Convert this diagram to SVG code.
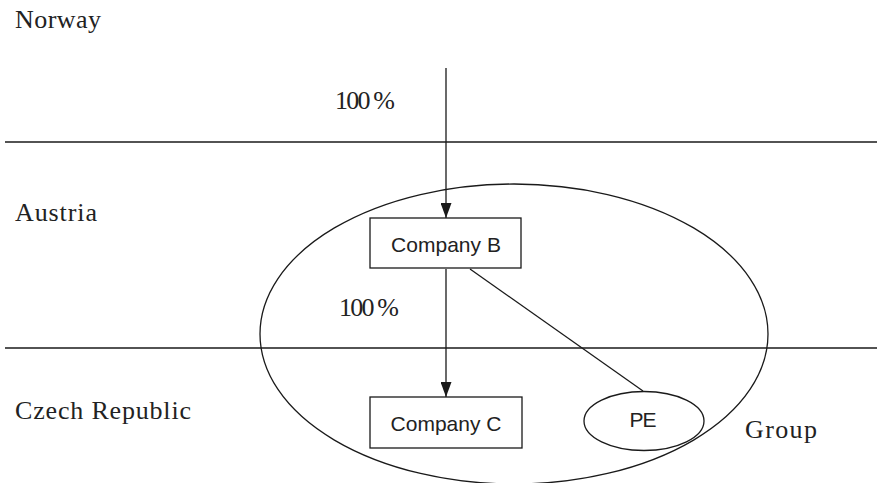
<svg xmlns="http://www.w3.org/2000/svg" width="877" height="483" viewBox="0 0 877 483">
  <style>
    .ln { stroke: #1a1a1a; stroke-width: 1.3; fill: none; }
    .box { stroke: #1a1a1a; stroke-width: 1.3; fill: #fff; }
    .serif { font-family: "Liberation Serif", "Times New Roman", serif; font-size: 26px; fill: #222; }
    .sans { font-family: "Liberation Sans", Arial, sans-serif; font-size: 21px; fill: #222; text-anchor: middle; }
  </style>
  <defs>
    <marker id="arrow" markerWidth="15" markerHeight="11" refX="15" refY="5.5" orient="auto" markerUnits="userSpaceOnUse" viewBox="0 0 15 11">
      <path d="M0,0 L15,5.5 L0,11 Z" fill="#1a1a1a"/>
    </marker>
  </defs>
  <rect width="877" height="483" fill="#fff"/>

  <!-- country boundaries -->
  <g id="borders">
    <line class="ln" x1="5" y1="142" x2="877" y2="142"/>
    <line class="ln" x1="5" y1="348" x2="877" y2="348"/>
  </g>

  <!-- country labels -->
  <g id="countries">
    <text class="serif" x="15" y="28" textLength="86">Norway</text>
    <text class="serif" x="15" y="221" textLength="82">Austria</text>
    <text class="serif" x="15" y="419" textLength="176">Czech Republic</text>
  </g>

  <!-- group boundary -->
  <g id="group">
    <ellipse class="ln" cx="514" cy="334" rx="254" ry="150"/>
    <text class="serif" x="745" y="438" textLength="72">Group</text>
  </g>

  <!-- connectors -->
  <g id="connectors">
    <line class="ln" x1="446" y1="68" x2="446" y2="218" marker-end="url(#arrow)"/>
    <line class="ln" x1="446" y1="269" x2="446" y2="397" marker-end="url(#arrow)"/>
    <line class="ln" x1="470" y1="269" x2="643" y2="391"/>
    <text class="serif" x="335" y="109" textLength="60">100 %</text>
    <text class="serif" x="339" y="316" textLength="60">100 %</text>
  </g>

  <g id="company-b">
    <rect class="box" x="370" y="218" width="151" height="50"/>
    <text class="sans" x="446" y="252" textLength="110">Company B</text>
  </g>

  <g id="company-c">
    <rect class="box" x="370" y="397" width="152" height="51"/>
    <text class="sans" x="446" y="431" textLength="111">Company C</text>
  </g>

  <g id="pe">
    <ellipse class="box" cx="644" cy="421" rx="60" ry="29.5"/>
    <text class="sans" x="643" y="427" textLength="27">PE</text>
  </g>
</svg>
